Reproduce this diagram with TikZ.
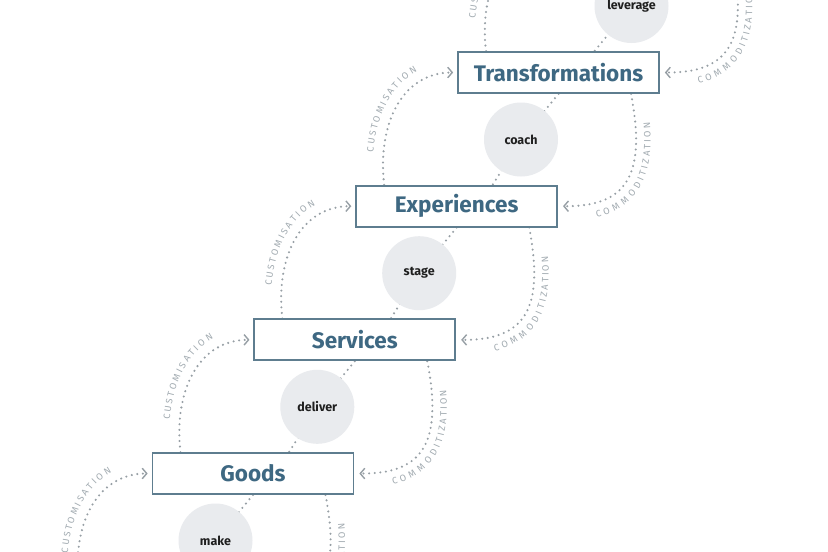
\documentclass[tikz,border=0pt]{standalone}
\usepackage{fontspec}
\setmainfont{Fira Sans}
\usetikzlibrary{arrows.meta,decorations.text,backgrounds}
\definecolor{boxcol}{HTML}{5E7D8F}
\definecolor{txtcol}{HTML}{3E6882}
\definecolor{circfill}{HTML}{E9EBEE}
\definecolor{dotcol}{HTML}{979FA5}
\definecolor{lblcol}{HTML}{A2ABB1}
\newcommand\lblfont{\fontsize{9.3}{11}\selectfont\fontdimen2\font=1.5pt\color{lblcol}}
\begin{document}
\begin{tikzpicture}[x=1pt,y=-1pt,
  stagebox/.style={draw=boxcol, line width=1.7pt, fill=white, minimum width=201pt,
    minimum height=41pt, inner sep=0pt, text=txtcol,
    font=\fontsize{22.5}{26}\selectfont\bfseries},
  bubble/.style={circle, fill=circfill, minimum size=74pt, inner sep=0pt,
    font=\fontsize{12.5}{14}\selectfont\bfseries, text=black!88},
  dotline/.style={draw=dotcol, line width=2.3pt, dash pattern=on 0pt off 5.6pt, line cap=round},
  barbtip/.style={-{Straight Barb[length=4.5pt,width=10.5pt,line width=1.4pt]}},
  custlbl/.style={decorate, decoration={text along path,
    text={|\lblfont|C U S T O M I S A T I O N}, text align=center, raise=10pt}},
  commlbl/.style={decorate, decoration={text along path,
    text={|\lblfont|C O M M O D I T I Z A T I O N}, text align=center, raise=-14.5pt}}
]
\useasboundingbox (0,0) rectangle (828,552);

% boxes (b0 and b5 lie outside the visible area)
\node[stagebox] (b0) at (151.17,607.17) {};
\node[stagebox] (b1) at (253,473.5) {Goods};
\node[stagebox] (b2) at (354.83,339.83) {Services};
\node[stagebox] (b3) at (456.67,206.17) {Experiences};
\node[stagebox] (b4) at (558.5,72.5) {Transformations};
\node[stagebox] (b5) at (660.33,-61.17) {};

% circles
\node[bubble] (c1) at (215.5,540.5) {make};
\node[bubble] (c2) at (317.3,406.8) {deliver};
\node[bubble] (c3) at (419.2,273.2) {stage};
\node[bubble] (c4) at (521,139.5) {coach};
\node[bubble] (c5) at (631.5,6) {leverage};

\begin{scope}[on background layer]
  \fill[white] (0,0) rectangle (828,552);
  \foreach \i in {1,...,5}{
    \pgfmathtruncatemacro{\j}{\i-1}
    \draw[dotline] (b\i.south) -- (c\i.center) -- ([xshift=36pt]b\j.north);
  }
  \foreach \i in {0,...,4}{
    \pgfmathtruncatemacro{\j}{\i+1}
    % customisation: lower box -> upper box (left side)
    \draw[dotline,barbtip] ([xshift=-72.5pt]b\i.north) .. controls +(-7,-61) and +(-51,0) .. ([xshift=-4pt]b\j.west);
    \path[custlbl] ([xshift=-72.5pt]b\i.north) .. controls +(-7,-61) and +(-51,0) .. ([xshift=-4pt]b\j.west);
    % commoditization: upper box -> lower box (right side)
    \draw[dotline,barbtip] ([xshift=72.5pt]b\j.south) .. controls +(16,83) and +(62.5,0.5) .. ([xshift=5pt]b\i.east);
    \path[commlbl] ([xshift=5pt]b\i.east) .. controls +(62.5,0.5) and +(16,83) .. ([xshift=72.5pt]b\j.south);
  }
\end{scope}
\end{tikzpicture}
\end{document}
